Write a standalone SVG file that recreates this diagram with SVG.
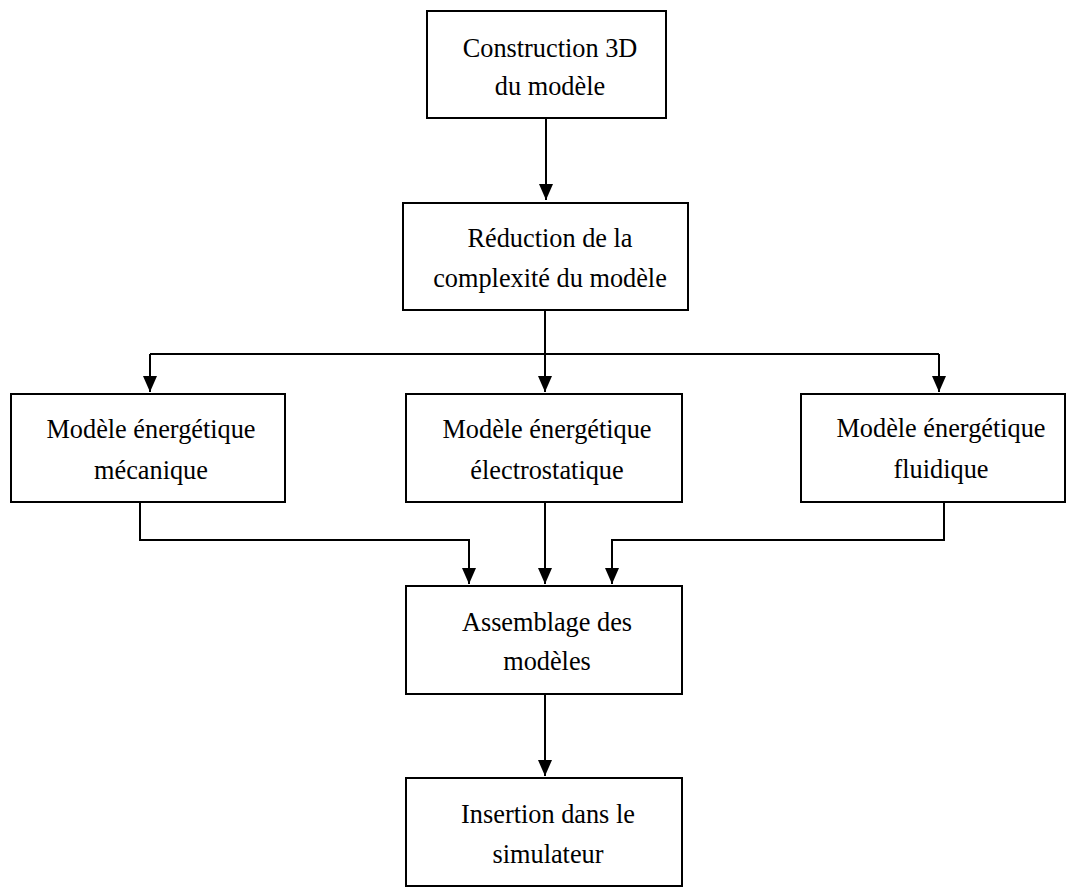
<svg xmlns="http://www.w3.org/2000/svg" width="1066" height="888" viewBox="0 0 1066 888">
<style>
.box{fill:#fff;stroke:#000;stroke-width:2}
.t{font-family:"Liberation Serif","Times New Roman",serif;font-size:26.3px;fill:#000;text-anchor:middle}
.c{fill:none;stroke:#000;stroke-width:2}
</style>
<defs>
<marker id="ah" viewBox="0 0 16 14" refX="16" refY="7" markerWidth="16" markerHeight="14" markerUnits="userSpaceOnUse" orient="auto">
<path d="M0,0 L16,7 L0,14 Z" fill="#000"/>
</marker>
</defs>
<rect width="1066" height="888" fill="#fff"/>
<g id="connectors">
<path class="c" d="M546,118 V200" marker-end="url(#ah)"/>
<path class="c" d="M545,310 V392" marker-end="url(#ah)"/>
<path class="c" d="M150,354 H939" />
<path class="c" d="M150,354 V392" marker-end="url(#ah)"/>
<path class="c" d="M939,354 V392" marker-end="url(#ah)"/>
<path class="c" d="M140,502 V540 H469 V584" marker-end="url(#ah)"/>
<path class="c" d="M545,502 V584" marker-end="url(#ah)"/>
<path class="c" d="M944,502 V540 H612 V584" marker-end="url(#ah)"/>
<path class="c" d="M545,694 V776" marker-end="url(#ah)"/>
</g>
<g id="n1">
<rect class="box" x="427" y="11" width="239" height="107"/>
<text class="t" x="550" y="57">Construction 3D</text>
<text class="t" x="550" y="95">du modèle</text>
</g>
<g id="n2">
<rect class="box" x="403" y="203" width="285" height="107"/>
<text class="t" x="550" y="247">Réduction de la</text>
<text class="t" x="550" y="287">complexité du modèle</text>
</g>
<g id="n3">
<rect class="box" x="11" y="394" width="274" height="108"/>
<text class="t" x="151" y="438">Modèle énergétique</text>
<text class="t" x="151" y="479">mécanique</text>
</g>
<g id="n4">
<rect class="box" x="406" y="394" width="276" height="108"/>
<text class="t" x="547" y="438">Modèle énergétique</text>
<text class="t" x="547" y="479">électrostatique</text>
</g>
<g id="n5">
<rect class="box" x="801" y="394" width="264" height="108"/>
<text class="t" x="941" y="437">Modèle énergétique</text>
<text class="t" x="941" y="478">fluidique</text>
</g>
<g id="n6">
<rect class="box" x="406" y="586" width="276" height="108"/>
<text class="t" x="547" y="631">Assemblage des</text>
<text class="t" x="547" y="670">modèles</text>
</g>
<g id="n7">
<rect class="box" x="406" y="778" width="276" height="108"/>
<text class="t" x="548" y="823">Insertion dans le</text>
<text class="t" x="548" y="863">simulateur</text>
</g>
</svg>
